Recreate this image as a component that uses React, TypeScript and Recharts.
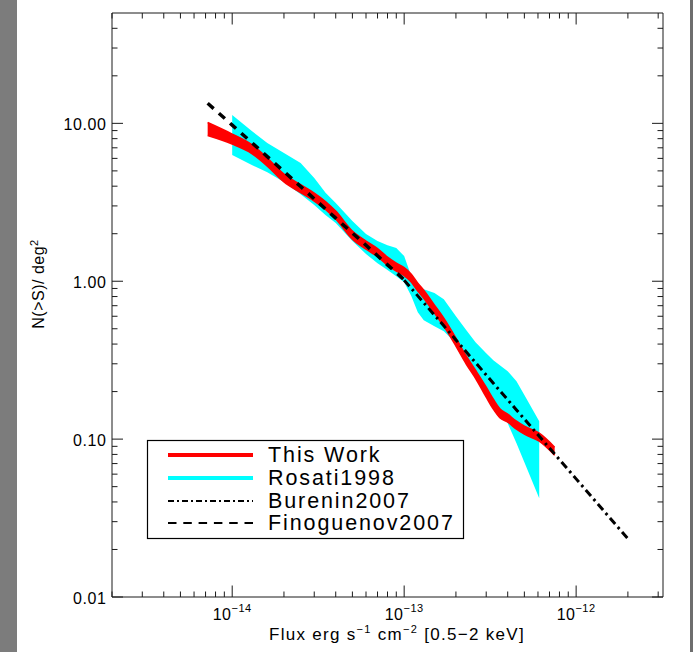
import React from 'react';
import { ComposedChart, Area, Line, XAxis, YAxis } from 'recharts';

// flux grid (erg s^-1 cm^-2, 0.5-2 keV)
const flux = [
  7.2e-15, 1.0e-14, 1.3e-14, 1.6e-14, 2.0e-14, 2.5e-14, 3.0e-14, 3.5e-14, 4.0e-14,
  5.0e-14, 6.0e-14, 7.0e-14, 8.0e-14, 9.0e-14, 1.0e-13, 1.1e-13, 1.2e-13, 1.3e-13,
  1.5e-13, 1.7e-13, 2.0e-13, 2.3e-13, 2.6e-13, 3.0e-13, 3.3e-13, 3.6e-13, 4.0e-13,
  4.5e-13, 5.0e-13, 6.1e-13, 7.5e-13, 1.0e-12, 1.5e-12, 2.0e-12,
];

// N(>S) per deg^2
const thisWorkHigh = [
  10.12, 8.55, 7.34, 6.03, 4.77, 4.09, 3.62, 3.19, 2.78, 2.077, 1.795, 1.609, 1.421,
  1.302, 1.219, 1.109, 0.973, 0.878, 0.706, 0.584, 0.436, 0.335, 0.273, 0.2133, 0.179,
  0.1558, 0.1438, 0.1298, 0.1207, 0.109, 0.0889, null, null, null,
];
const thisWorkLow = [
  8.37, 7.39, 6.44, 5.36, 4.25, 3.64, 3.22, 2.84, 2.475, 1.849, 1.597, 1.432, 1.265,
  1.159, 1.085, 0.987, 0.866, 0.781, 0.628, 0.519, 0.388, 0.298, 0.243, 0.1842, 0.1547,
  0.1367, 0.128, 0.1155, 0.1074, 0.097, 0.0791, null, null, null,
];
const rosatiHigh = [
  null, 11.29, 8.94, 7.5, 6.48, 5.6, 4.5, 3.62, 3.125, 2.404, 1.988, 1.795, 1.693, 1.621,
  1.443, 1.077, 0.931, 0.891, 0.841, 0.77, 0.601, 0.49, 0.411, 0.35, 0.316, 0.294, 0.269,
  0.2328, 0.19, 0.1298, null, null, null, null,
];
const rosatiLow = [
  null, 6.3, 5.44, 4.91, 4.25, 3.56, 3.035, 2.62, 2.335, 1.795, 1.485, 1.302, 1.176, 1.077,
  0.987, 0.805, 0.637, 0.567, 0.519, 0.483, 0.405, 0.326, 0.2655, 0.204, 0.1713, 0.148,
  0.126, 0.0942, 0.0714, 0.0422, null, null, null, null,
];
const finoguenov = [
  13.4, 9.75, 7.55, 6.16, 4.95, 3.98, 3.33, 2.86, 2.51, 2.02, 1.69, 1.45, 1.27, 1.135,
  1.02, null, null, null, null, null, null, null, null, null, null, null, null, null,
  null, null, null, null, null, null,
];
const burenin = [
  null, null, null, null, null, null, null, null, null, null, null, null, null, null,
  1.016, 0.902, 0.808, 0.731, 0.61, 0.522, 0.425, 0.356, 0.305, 0.255, 0.226, 0.2025,
  0.1775, 0.153, 0.134, 0.1043, 0.0804, 0.056, 0.0336, 0.0234,
];

const legendNames = ['This Work', 'Rosati1998', 'Burenin2007', 'Finoguenov2007'];

const X_DOMAIN = [2e-15, 3.2e-12];
const Y_DOMAIN = [0.01, 50];
const xDecades = [1e-15, 1e-14, 1e-13, 1e-12];
const yDecades = [0.01, 0.1, 1, 10];
const steps = [1, 2, 3, 4, 5, 6, 7, 8, 9];

const xTicks = xDecades
  .flatMap((d) => steps.map((k) => k * d))
  .filter((v) => v >= X_DOMAIN[0] * 0.999 && v <= X_DOMAIN[1]);
const yTicks = yDecades
  .flatMap((d) => steps.map((k) => k * d))
  .filter((v) => v >= Y_DOMAIN[0] * 0.999 && v < Y_DOMAIN[1] * 0.999);

const rows = flux.map((s, i) => ({
  flux: s,
  thisWork: thisWorkLow[i] != null ? [thisWorkLow[i], thisWorkHigh[i]] : null,
  rosati: rosatiLow[i] != null ? [rosatiLow[i], rosatiHigh[i]] : null,
  finoguenov: finoguenov[i],
  burenin: burenin[i],
}));

const FRAME = '#1a1a1a';
const FONT = '"Liberation Sans", Arial, sans-serif';

const isDecade = (v: number) => {
  const e = Math.log10(v);
  return Math.abs(e - Math.round(e)) < 1e-6;
};

const BottomTick = (props: any) => {
  const { x, y, payload } = props;
  const major = isDecade(payload.value);
  const exp = Math.round(Math.log10(payload.value));
  return (
    <g>
      <line x1={x} y1={y} x2={x} y2={y - (major ? 11.5 : 5.5)} stroke={FRAME} />
      {major && (
        <text x={x} y={y + 23} textAnchor="middle" fontFamily={FONT} fontSize={16} fill="#000" letterSpacing={0.5}>
          <tspan>10</tspan>
          <tspan dy={-8} fontSize={11}>{'\u2212' + Math.abs(exp)}</tspan>
        </text>
      )}
    </g>
  );
};

const TopTick = (props: any) => {
  const { x, y, payload } = props;
  const major = isDecade(payload.value);
  return <line x1={x} y1={y} x2={x} y2={y + (major ? 11.5 : 5.5)} stroke={FRAME} />;
};

const LeftTick = (props: any) => {
  const { x, y, payload } = props;
  const major = isDecade(payload.value);
  return (
    <g>
      <line x1={x} y1={y} x2={x + (major ? 11 : 5.5)} y2={y} stroke={FRAME} />
      {major && (
        <text x={x - 5.5} y={y + 1} textAnchor="end" dominantBaseline="central" fontFamily={FONT} fontSize={16} fill="#000" letterSpacing={0.6}>
          {payload.value.toFixed(2)}
        </text>
      )}
    </g>
  );
};

const RightTick = (props: any) => {
  const { x, y, payload } = props;
  const major = isDecade(payload.value);
  return <line x1={x} y1={y} x2={x - (major ? 11 : 5.5)} y2={y} stroke={FRAME} />;
};

const XTitle = () => (
  <text x={397} y={640} textAnchor="middle" fontFamily={FONT} fontSize={17} fill="#000" letterSpacing={1.3}>
    <tspan>Flux erg s</tspan>
    <tspan dy={-7} fontSize={11}>{'\u22121'}</tspan>
    <tspan dy={7}> cm</tspan>
    <tspan dy={-7} fontSize={11}>{'\u22122'}</tspan>
    <tspan dy={7}> [0.5{'\u2212'}2 keV]</tspan>
  </text>
);

const YTitle = () => (
  <text
    x={44}
    y={284}
    transform="rotate(-90, 44, 284)"
    textAnchor="middle"
    fontFamily={FONT}
    fontSize={16}
    fill="#000"
    letterSpacing={0.5}
  >
    <tspan>N(&gt;S)/ deg</tspan>
    <tspan dy={-6} fontSize={11}>2</tspan>
  </text>
);

const legendY = [455, 478, 501, 523];

const LegendBox = () => (
  <svg width={693} height={652} style={{ position: 'absolute', left: 0, top: 0, pointerEvents: 'none' }}>
    <rect x={147.5} y={440.5} width={316} height={98} fill="#fff" stroke="#000" strokeWidth={1.2} />
    <line x1={168} x2={253} y1={legendY[0]} y2={legendY[0]} stroke="#ff0000" strokeWidth={4} />
    <line x1={168} x2={253} y1={legendY[1]} y2={legendY[1]} stroke="#00ffff" strokeWidth={4} />
    <line x1={168} x2={253} y1={legendY[2]} y2={legendY[2]} stroke="#000" strokeWidth={2} strokeDasharray="6 3 2 3" />
    <line x1={168} x2={253} y1={legendY[3]} y2={legendY[3]} stroke="#000" strokeWidth={2} strokeDasharray="8.5 6.8" />
    {legendNames.map((name, i) => (
      <text key={name} x={268} y={legendY[i] + 7} fontFamily={FONT} fontSize={21.5} fill="#000" letterSpacing={1.9}>
        {name}
      </text>
    ))}
  </svg>
);

export default function App() {
  return (
    <div style={{ position: 'fixed', left: 0, top: 0, width: 693, height: 652, background: '#fff', overflow: 'hidden' }}>
      <div style={{ position: 'absolute', left: 0, top: 0, width: 17, height: 652, background: '#7c7c7c' }} />
      <div style={{ position: 'absolute', left: 690, top: 0, width: 3, height: 652, background: '#6e6e6e' }} />
      <div style={{ position: 'absolute', left: 0, top: 0 }}>
        <ComposedChart width={693} height={652} data={rows} margin={{ top: 12, right: 29, bottom: 0, left: 0 }}>
          <XAxis
            xAxisId="b"
            dataKey="flux"
            type="number"
            scale="log"
            domain={X_DOMAIN}
            allowDataOverflow
            ticks={xTicks}
            interval={0}
            tick={(p: any) => <BottomTick {...p} />}
            tickLine={false}
            tickSize={0}
            tickMargin={0}
            axisLine={{ stroke: FRAME }}
            height={55}
            label={<XTitle />}
          />
          <XAxis
            xAxisId="t"
            orientation="top"
            dataKey="flux"
            type="number"
            scale="log"
            domain={X_DOMAIN}
            allowDataOverflow
            ticks={xTicks}
            interval={0}
            tick={(p: any) => <TopTick {...p} />}
            tickLine={false}
            tickSize={0}
            tickMargin={0}
            axisLine={{ stroke: FRAME }}
            height={1}
          />
          <YAxis
            yAxisId="l"
            type="number"
            scale="log"
            domain={Y_DOMAIN}
            allowDataOverflow
            ticks={yTicks}
            interval={0}
            tick={(p: any) => <LeftTick {...p} />}
            tickLine={false}
            tickSize={0}
            tickMargin={0}
            axisLine={{ stroke: FRAME }}
            width={112}
            label={<YTitle />}
          />
          <YAxis
            yAxisId="r"
            orientation="right"
            type="number"
            scale="log"
            domain={Y_DOMAIN}
            allowDataOverflow
            ticks={yTicks}
            interval={0}
            tick={(p: any) => <RightTick {...p} />}
            tickLine={false}
            tickSize={0}
            tickMargin={0}
            axisLine={{ stroke: FRAME }}
            width={1}
          />
          <Area
            xAxisId="b"
            yAxisId="l"
            dataKey="rosati"
            type="linear"
            fill="#00ffff"
            fillOpacity={1}
            stroke="none"
            isAnimationActive={false}
            activeDot={false}
          />
          <Area
            xAxisId="b"
            yAxisId="l"
            dataKey="thisWork"
            type="monotone"
            fill="#ff0000"
            fillOpacity={1}
            stroke="#ff0000"
            strokeWidth={1.5}
            isAnimationActive={false}
            activeDot={false}
          />
          <Line
            xAxisId="b"
            yAxisId="l"
            dataKey="finoguenov"
            type="linear"
            stroke="#000"
            strokeWidth={3.5}
            strokeDasharray="8 7"
            dot={false}
            activeDot={false}
            isAnimationActive={false}
          />
          <Line
            xAxisId="b"
            yAxisId="l"
            dataKey="burenin"
            type="linear"
            stroke="#000"
            strokeWidth={3}
            strokeDasharray="8 4 2.5 4"
            dot={false}
            activeDot={false}
            isAnimationActive={false}
          />
        </ComposedChart>
      </div>
      <LegendBox />
    </div>
  );
}
